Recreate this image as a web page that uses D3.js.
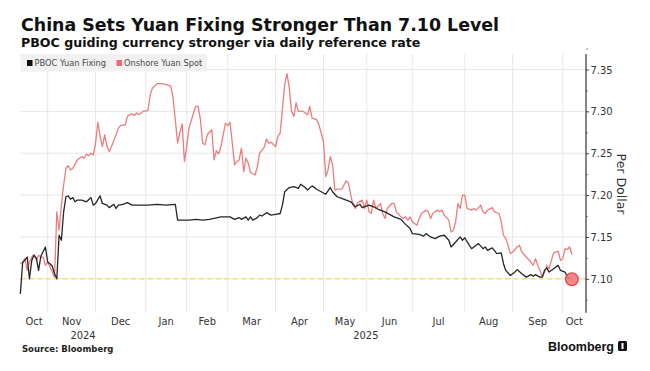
<!DOCTYPE html>
<html>
<head>
<meta charset="utf-8">
<script src="https://cdn.jsdelivr.net/npm/d3@7"></script>
<style>
  body { margin: 0; background: #fff; }
  svg { display: block; }
</style>
</head>
<body>
<script>
// sessions are onshore trading days counted from 2024-10-16
var startDate = '2024-10-16';
var endDate = '2025-10-15';
var holidays = ['2025-01-01', '2025-01-28', '2025-01-29', '2025-01-30', '2025-01-31',
  '2025-02-03', '2025-02-04', '2025-04-04', '2025-05-01', '2025-05-02', '2025-05-05',
  '2025-06-02', '2025-10-01', '2025-10-02', '2025-10-03', '2025-10-06', '2025-10-07', '2025-10-08'];

var monthLabels = ['Oct', 'Nov', 'Dec', 'Jan', 'Feb', 'Mar', 'Apr', 'May', 'Jun', 'Jul', 'Aug', 'Sep', 'Oct'];
var yearLabels = ['2024', '2025'];
var yTicks = [7.10, 7.15, 7.20, 7.25, 7.30, 7.35];
var threshold = 7.10;

// [session, CNY per USD]
var fixing = [
  [0, 7.082], [1, 7.119], [3, 7.126], [4, 7.100], [5, 7.122], [6, 7.128], [7, 7.125], [8, 7.110],
  [9, 7.127], [11, 7.138], [12, 7.120], [13, 7.118], [14, 7.115], [15, 7.106], [16, 7.100],
  [17, 7.152], [18, 7.146], [19, 7.180], [20, 7.198], [21, 7.199], [22, 7.195], [23, 7.197],
  [24, 7.192], [25, 7.194], [27, 7.194], [29, 7.192], [31, 7.197], [32, 7.188], [33, 7.190],
  [35, 7.199], [36, 7.190], [38, 7.188], [39, 7.185], [41, 7.189], [42, 7.184], [43, 7.188],
  [45, 7.189], [47, 7.191], [49, 7.188], [53, 7.188], [56, 7.188], [60, 7.189], [64, 7.188],
  [68, 7.189], [69, 7.170], [71, 7.170], [74, 7.170], [77, 7.171], [80, 7.170], [83, 7.171],
  [88, 7.174], [92, 7.174], [94, 7.171], [96, 7.173], [97, 7.171], [99, 7.174], [100, 7.170],
  [101, 7.174], [102, 7.170], [104, 7.173], [105, 7.176], [106, 7.175], [108, 7.179], [110, 7.176],
  [112, 7.177], [114, 7.178], [115, 7.188], [116, 7.204], [118, 7.209], [120, 7.210], [122, 7.208],
  [123, 7.213], [125, 7.209], [126, 7.206], [128, 7.211], [130, 7.207], [132, 7.204], [134, 7.201],
  [136, 7.209], [137, 7.204], [139, 7.198], [141, 7.196], [143, 7.194], [145, 7.192], [147, 7.186],
  [149, 7.189], [150, 7.185], [153, 7.188], [155, 7.186], [157, 7.183], [160, 7.180], [162, 7.177],
  [164, 7.174], [167, 7.171], [169, 7.165], [171, 7.160], [172, 7.154], [175, 7.153], [177, 7.151],
  [178, 7.154], [180, 7.150], [182, 7.148], [184, 7.151], [186, 7.152], [188, 7.146], [189, 7.138],
  [191, 7.144], [193, 7.150], [194, 7.146], [195, 7.149], [197, 7.140], [198, 7.136], [200, 7.140],
  [201, 7.142], [203, 7.136], [204, 7.138], [205, 7.134], [207, 7.137], [208, 7.134], [209, 7.130],
  [211, 7.131], [212, 7.118], [213, 7.110], [215, 7.104], [217, 7.108], [218, 7.111], [220, 7.106],
  [222, 7.102], [224, 7.105], [225, 7.103], [226, 7.105], [228, 7.102], [229, 7.102], [230, 7.110],
  [231, 7.113], [232, 7.108], [234, 7.112], [236, 7.116], [237, 7.110], [239, 7.108], [240, 7.102],
  [241, 7.101], [242, 7.0995]
];

var spot = [
  [0, 7.118], [1, 7.120], [2, 7.124], [3, 7.110], [4, 7.120], [5, 7.126], [6, 7.129], [7, 7.122],
  [8, 7.128], [9, 7.126], [10, 7.126], [11, 7.116], [12, 7.120], [13, 7.114], [14, 7.108], [15, 7.102],
  [16, 7.180], [17, 7.158], [18, 7.188], [19, 7.212], [20, 7.232], [21, 7.235], [22, 7.230],
  [23, 7.232], [24, 7.237], [25, 7.242], [27, 7.246], [28, 7.244], [29, 7.249], [30, 7.247],
  [31, 7.250], [32, 7.248], [33, 7.262], [34, 7.287], [35, 7.270], [36, 7.258], [37, 7.272],
  [38, 7.258], [39, 7.252], [40, 7.258], [42, 7.272], [43, 7.280], [44, 7.283], [46, 7.284],
  [47, 7.294], [48, 7.296], [49, 7.297], [50, 7.295], [51, 7.298], [52, 7.296], [54, 7.300],
  [56, 7.301], [57, 7.320], [58, 7.328], [60, 7.333], [62, 7.333], [64, 7.332], [66, 7.330],
  [67, 7.316], [68, 7.290], [69, 7.262], [70, 7.275], [71, 7.285], [72, 7.240], [73, 7.258],
  [74, 7.280], [76, 7.298], [77, 7.306], [78, 7.306], [79, 7.290], [80, 7.262], [81, 7.260],
  [82, 7.272], [84, 7.278], [85, 7.242], [86, 7.253], [87, 7.249], [88, 7.258], [90, 7.286],
  [91, 7.283], [92, 7.287], [93, 7.262], [94, 7.236], [95, 7.240], [96, 7.242], [97, 7.256],
  [98, 7.228], [99, 7.244], [100, 7.238], [101, 7.227], [103, 7.224], [104, 7.234], [105, 7.250],
  [107, 7.257], [108, 7.267], [109, 7.262], [110, 7.263], [112, 7.258], [113, 7.270], [114, 7.274],
  [116, 7.332], [117, 7.345], [118, 7.328], [119, 7.300], [120, 7.294], [121, 7.310], [122, 7.300],
  [124, 7.300], [125, 7.298], [126, 7.296], [127, 7.306], [128, 7.292], [130, 7.290], [131, 7.284],
  [133, 7.264], [134, 7.222], [135, 7.230], [136, 7.246], [137, 7.236], [138, 7.206], [139, 7.207],
  [141, 7.207], [142, 7.212], [143, 7.217], [144, 7.214], [145, 7.200], [146, 7.188], [147, 7.184],
  [148, 7.191], [150, 7.194], [151, 7.184], [152, 7.194], [153, 7.180], [154, 7.178], [155, 7.194],
  [156, 7.184], [158, 7.190], [159, 7.178], [160, 7.172], [161, 7.184], [163, 7.190], [164, 7.190],
  [165, 7.180], [167, 7.174], [168, 7.172], [169, 7.174], [170, 7.170], [171, 7.174], [172, 7.168],
  [174, 7.164], [175, 7.172], [176, 7.178], [178, 7.182], [179, 7.180], [180, 7.172], [181, 7.178],
  [183, 7.182], [184, 7.180], [185, 7.182], [186, 7.176], [188, 7.170], [189, 7.156], [190, 7.158],
  [191, 7.168], [192, 7.190], [193, 7.184], [194, 7.200], [195, 7.200], [196, 7.184], [198, 7.182],
  [199, 7.184], [200, 7.182], [202, 7.188], [203, 7.180], [204, 7.178], [205, 7.182], [207, 7.185],
  [208, 7.180], [210, 7.178], [211, 7.168], [212, 7.152], [213, 7.148], [214, 7.140], [215, 7.130],
  [216, 7.132], [218, 7.138], [219, 7.140], [220, 7.132], [222, 7.126], [224, 7.120], [225, 7.116],
  [226, 7.124], [227, 7.116], [228, 7.110], [229, 7.102], [230, 7.108], [231, 7.116], [232, 7.112],
  [233, 7.122], [234, 7.131], [236, 7.133], [237, 7.122], [238, 7.124], [239, 7.136], [240, 7.135],
  [241, 7.138], [242, 7.129]
];

var width = 650;
var height = 371;
var plot = { left: 20.35, right: 586, top: 54, bottom: 312.7 };

var colorFixing = '#262626';
var colorSpot = '#ec7d7f';
var condensed = '"DejaVu Sans Condensed", "DejaVu Sans", sans-serif';

// trading calendar
function buildSessions() {
  var parse = d3.utcParse('%Y-%m-%d');
  var fmt = d3.utcFormat('%Y-%m-%d');
  var skip = new Set(holidays);
  var days = d3.utcDay.range(parse(startDate), d3.utcDay.offset(parse(endDate), 1));
  return days.filter(function(d) {
    var wd = d.getUTCDay();
    return wd !== 0 && wd !== 6 && !skip.has(fmt(d));
  });
}

var sessions = buildSessions();
var lastSession = sessions.length - 1;

var monthStarts = [];
sessions.forEach(function(d, i) {
  if (i === 0 || d.getUTCMonth() !== sessions[i - 1].getUTCMonth()) {
    monthStarts.push(i);
  }
});
var domainEnd = lastSession + 6.2;

var x = d3.scaleLinear().domain([0, domainEnd]).range([plot.left, plot.right]);
var y = d3.scaleLinear().domain([7.0595, 7.3685]).range([plot.bottom, plot.top]);

var svg = d3.select('body').append('svg')
  .attr('width', width)
  .attr('height', height);

// gridlines
var grid = svg.append('g').attr('class', 'grid');
grid.selectAll('.hgrid')
  .data(yTicks)
  .enter()
    .append('line')
    .attr('x1', plot.left)
    .attr('x2', plot.right)
    .attr('y1', function(d) { return y(d); })
    .attr('y2', function(d) { return y(d); })
    .attr('stroke', '#e8e8e8')
    .attr('stroke-width', 1);

grid.selectAll('.vgrid')
  .data(monthStarts.slice(1))
  .enter()
    .append('line')
    .attr('x1', function(d) { return x(d); })
    .attr('x2', function(d) { return x(d); })
    .attr('y1', plot.top)
    .attr('y2', plot.bottom)
    .attr('stroke', '#e8e8e8')
    .attr('stroke-width', 1);

// legend
var legend = svg.append('g').attr('class', 'legend');
legend.append('rect')
  .attr('x', 20.5)
  .attr('y', 54)
  .attr('width', 186.5)
  .attr('height', 17.5)
  .attr('fill', '#f1f1f1');

var legendItems = [
  { label: 'PBOC Yuan Fixing', color: '#111', x: 27 },
  { label: 'Onshore Yuan Spot', color: '#f06b6d', x: 116.5 }
];
var item = legend.selectAll('.item')
  .data(legendItems)
  .enter()
    .append('g')
    .attr('transform', function(d) { return 'translate(' + d.x + ',63)'; });
item.append('rect')
  .attr('x', 0)
  .attr('y', -3)
  .attr('width', 5.5)
  .attr('height', 6)
  .attr('fill', function(d) { return d.color; });
item.append('text')
  .attr('x', 7.5)
  .attr('y', 3.3)
  .attr('font-family', condensed)
  .attr('font-size', 9.2)
  .attr('fill', '#4a4a4a')
  .text(function(d) { return d.label; });

// 7.10 reference line
svg.append('line')
  .attr('x1', plot.left)
  .attr('x2', plot.right)
  .attr('y1', y(threshold))
  .attr('y2', y(threshold))
  .attr('stroke', '#f2e34a')
  .attr('stroke-width', 1.3)
  .attr('stroke-dasharray', '5,3.5');

// series
var line = d3.line()
  .x(function(d) { return x(d[0]); })
  .y(function(d) { return y(d[1]); });

svg.append('path')
  .datum(spot)
  .attr('fill', 'none')
  .attr('stroke', colorSpot)
  .attr('stroke-width', 1.3)
  .attr('stroke-linejoin', 'round')
  .attr('d', line);

svg.append('path')
  .datum(fixing)
  .attr('fill', 'none')
  .attr('stroke', colorFixing)
  .attr('stroke-width', 1.3)
  .attr('stroke-linejoin', 'round')
  .attr('d', line);

var last = fixing[fixing.length - 1];
svg.append('circle')
  .attr('cx', x(last[0]))
  .attr('cy', y(last[1]))
  .attr('r', 6.3)
  .attr('fill', '#f37a80')
  .attr('fill-opacity', 0.9)
  .attr('stroke', '#e24a52')
  .attr('stroke-width', 1.4);

// right axis
var yAxis = d3.axisRight(y)
  .tickValues(yTicks)
  .tickSize(3)
  .tickPadding(1.5)
  .tickFormat(d3.format('.2f'));

var yMinor = d3.axisRight(y)
  .tickValues(yTicks.map(function(d) { return d + 0.025; }).concat([7.075]))
  .tickSize(2)
  .tickFormat('');

var axisG = svg.append('g')
  .attr('transform', 'translate(' + plot.right + ',0)')
  .call(yAxis);
axisG.select('.domain').remove();
axisG.selectAll('line').attr('stroke', '#444');
axisG.selectAll('text')
  .attr('font-family', condensed)
  .attr('font-size', 11)
  .attr('fill', '#333');

var minorG = svg.append('g')
  .attr('transform', 'translate(' + plot.right + ',0)')
  .call(yMinor);
minorG.select('.domain').remove();
minorG.selectAll('line').attr('stroke', '#888');

svg.append('line')
  .attr('x1', plot.right)
  .attr('x2', plot.right)
  .attr('y1', plot.top)
  .attr('y2', plot.bottom)
  .attr('stroke', '#333')
  .attr('stroke-width', 1.2);

svg.append('text')
  .attr('transform', 'translate(617,184) rotate(90)')
  .attr('text-anchor', 'middle')
  .attr('font-family', '"DejaVu Sans", sans-serif')
  .attr('font-size', 12.5)
  .attr('fill', '#333')
  .text('Per Dollar');

// month and year labels
var monthSpans = monthStarts.map(function(s, i) {
  var e = i + 1 < monthStarts.length ? monthStarts[i + 1] : domainEnd;
  return { label: monthLabels[i], mid: (s + e) / 2 };
});
svg.selectAll('.month')
  .data(monthSpans)
  .enter()
    .append('text')
    .attr('x', function(d) { return x(d.mid); })
    .attr('y', 325)
    .attr('text-anchor', 'middle')
    .attr('font-family', condensed)
    .attr('font-size', 11)
    .attr('fill', '#333')
    .text(function(d) { return d.label; });

var yearSpans = [
  { label: yearLabels[0], mid: (0 + monthStarts[3]) / 2 },
  { label: yearLabels[1], mid: (monthStarts[3] + domainEnd) / 2 }
];
svg.selectAll('.year')
  .data(yearSpans)
  .enter()
    .append('text')
    .attr('x', function(d) { return x(d.mid); })
    .attr('y', 338.5)
    .attr('text-anchor', 'middle')
    .attr('font-family', condensed)
    .attr('font-size', 11)
    .attr('fill', '#333')
    .text(function(d) { return d.label; });

// titles
svg.append('text')
  .attr('x', 21)
  .attr('y', 31)
  .attr('font-family', '"DejaVu Sans", sans-serif')
  .attr('font-weight', 'bold')
  .attr('font-size', 17.4)
  .attr('fill', '#111')
  .text('China Sets Yuan Fixing Stronger Than 7.10 Level');

svg.append('text')
  .attr('x', 21)
  .attr('y', 46.5)
  .attr('font-family', '"DejaVu Sans", sans-serif')
  .attr('font-weight', 'bold')
  .attr('font-size', 12.6)
  .attr('fill', '#111')
  .text('PBOC guiding currency stronger via daily reference rate');

svg.append('text')
  .attr('x', 22)
  .attr('y', 352)
  .attr('font-family', '"DejaVu Sans", sans-serif')
  .attr('font-weight', 'bold')
  .attr('font-size', 8.5)
  .attr('fill', '#222')
  .text('Source: Bloomberg');

// wordmark
svg.append('text')
  .attr('x', 614)
  .attr('y', 351)
  .attr('text-anchor', 'end')
  .attr('font-family', '"Liberation Sans", Arial, sans-serif')
  .attr('font-weight', 'bold')
  .attr('font-size', 12.5)
  .attr('fill', '#111')
  .text('Bloomberg');

svg.append('rect')
  .attr('x', 618)
  .attr('y', 341)
  .attr('width', 9)
  .attr('height', 10)
  .attr('rx', 1.5)
  .attr('fill', '#111');
svg.append('rect')
  .attr('x', 621.5)
  .attr('y', 343)
  .attr('width', 2)
  .attr('height', 6)
  .attr('fill', '#fff');
</script>
</body>
</html>
